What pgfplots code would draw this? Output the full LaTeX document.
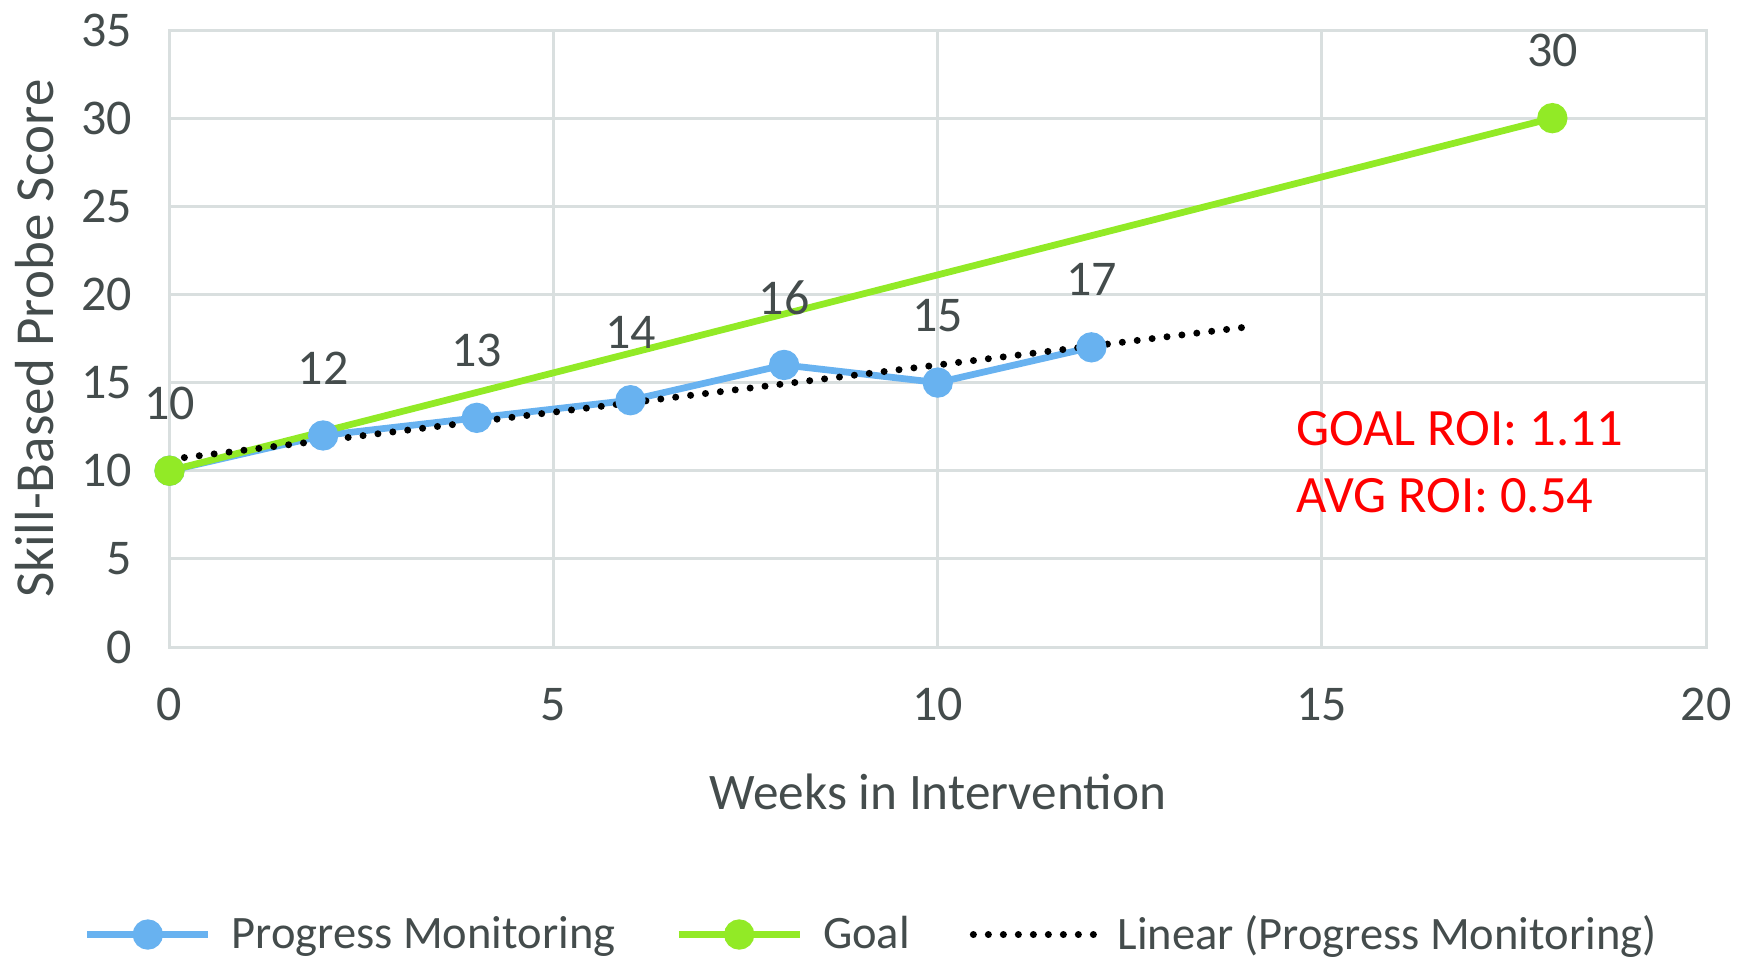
\documentclass[border=0pt]{standalone}
\usepackage{pgfplots}
\pgfplotsset{compat=1.18}
\usepackage{fontspec}
\setmainfont{Carlito}
\definecolor{txt}{RGB}{68,76,76}
\definecolor{pmblue}{RGB}{104,178,240}
\definecolor{goalgreen}{RGB}{146,234,38}
\definecolor{gridc}{RGB}{217,223,223}
\definecolor{roired}{RGB}{255,0,0}
\begin{document}
\begin{tikzpicture}
\path[use as bounding box] (-67.8pt,-125.2pt) rectangle (627pt,258.8pt);
\begin{axis}[
  at={(0pt,0pt)}, anchor=south west,
  scale only axis, width=614.6pt, height=246.8pt,
  xmin=0, xmax=20, ymin=0, ymax=35,
  xtick={0,5,...,20}, ytick={0,5,...,35},
  grid=major, major grid style={gridc, line width=1.2pt},
  axis line style={gridc, line width=1.2pt},
  tick style={draw=none},
  /pgf/number format/assume math mode=true,
  ticklabel style={font=\fontsize{20}{24}\selectfont, text=txt},
  xticklabel style={yshift=-13pt},
  yticklabel style={xshift=-11.5pt},
  xlabel={Weeks in Intervention},
  ylabel={Skill-Based Probe Score},
  label style={font=\fontsize{20.5}{25}\selectfont, text=txt},
  xlabel style={at={(axis description cs:0.5,0)}, anchor=center, yshift=-58pt},
  ylabel style={at={(axis description cs:-0.088,0.5)}, anchor=center, font=\fontsize{22}{26}\selectfont},
  legend columns=3,
  legend style={draw=none, at={(0.4577,0)}, anchor=center, yshift=-115pt,
    font=\fontsize{18.6}{22}\selectfont, text=txt,
    /tikz/every odd column/.append style={column sep=6pt},
    /tikz/every even column/.append style={column sep=22pt}},
  legend image code/.code={\draw[mark repeat=2,mark phase=2,#1] plot coordinates {(0cm,0cm) (0.85cm,0cm) (1.7cm,0cm)};},
  clip=false,
]
\addplot[pmblue, line width=2.7pt, mark=*, mark size=4.7pt, mark options={fill=pmblue, draw=pmblue},
  nodes near coords, point meta=explicit symbolic,
  every node near coord/.append style={anchor=center, yshift=27pt, font=\fontsize{20}{24}\selectfont, text=txt}]
  coordinates {(0,10)[10] (2,12)[12] (4,13)[13] (6,14)[14] (8,16)[16] (10,15)[15] (12,17)[17]};
\addlegendentry{Progress Monitoring}
\addplot[goalgreen, line width=2.7pt, mark=*, mark size=4.7pt, mark options={fill=goalgreen, draw=goalgreen}]
  coordinates {(0,10) (18,30)};
\addlegendentry{Goal}
\addplot[black, line width=2.8pt, line cap=round, dash pattern=on 0pt off 6pt]
  coordinates {(0,10.643) (14,18.143)};
\addlegendentry{Linear (Progress Monitoring)}
\addplot[draw=none, mark=none, forget plot, nodes near coords, point meta=explicit symbolic,
  every node near coord/.append style={anchor=center, yshift=27pt, font=\fontsize{20}{24}\selectfont, text=txt}]
  coordinates {(18,30)[30]};
\node[anchor=west, text=roired, font=\fontsize{21}{25}\selectfont] at (axis cs:14.55,12.38) {GOAL ROI: 1.11};
\node[anchor=west, text=roired, font=\fontsize{21}{25}\selectfont] at (axis cs:14.55,8.61) {AVG ROI: 0.54};
\end{axis}
\end{tikzpicture}
\end{document}
